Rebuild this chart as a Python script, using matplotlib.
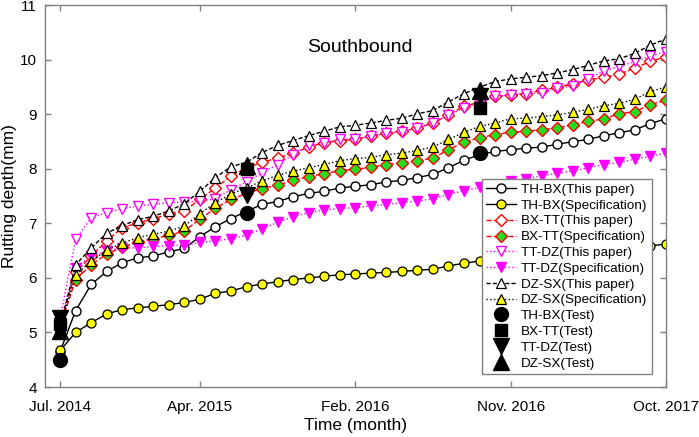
import matplotlib
matplotlib.use("Agg")
import matplotlib.pyplot as plt
import numpy as np

plt.rcParams['font.family'] = ['Liberation Sans', 'DejaVu Sans']

# ---- data (monthly, Jul. 2014 .. Oct. 2017) ----
tick_pos = [0, 9, 19, 29, 39]
tick_labels = ['Jul. 2014', 'Apr. 2015', 'Feb. 2016', 'Nov. 2016', 'Oct. 2017']

thbx_paper = [4.65, 5.40, 5.88, 6.12, 6.28, 6.37, 6.40, 6.48, 6.54, 6.76, 6.94, 7.09, 7.22, 7.35, 7.40,
              7.49, 7.55, 7.59, 7.65, 7.68, 7.71, 7.76, 7.79, 7.84, 7.90, 8.02, 8.16, 8.26, 8.32, 8.35,
              8.38, 8.40, 8.45, 8.50, 8.54, 8.61, 8.66, 8.72, 8.83, 8.92]
thbx_spec = [4.67, 5.00, 5.18, 5.34, 5.42, 5.45, 5.48, 5.51, 5.55, 5.61, 5.72, 5.76, 5.84, 5.89, 5.93,
             5.97, 6.00, 6.03, 6.06, 6.07, 6.09, 6.10, 6.12, 6.14, 6.16, 6.22, 6.27, 6.31, 6.34, 6.36,
             6.38, 6.40, 6.42, 6.44, 6.46, 6.49, 6.52, 6.55, 6.59, 6.62]
bxtt_paper = [5.15, 6.10, 6.40, 6.68, 6.92, 7.01, 7.08, 7.18, 7.23, 7.44, 7.65, 7.87, 8.02, 8.12, 8.20,
              8.29, 8.40, 8.48, 8.52, 8.54, 8.60, 8.66, 8.69, 8.75, 8.84, 8.99, 9.15, 9.22, 9.33, 9.35,
              9.38, 9.44, 9.50, 9.56, 9.63, 9.68, 9.74, 9.85, 9.97, 10.06]
bxtt_spec = [5.10, 5.97, 6.24, 6.44, 6.56, 6.66, 6.72, 6.78, 6.86, 7.08, 7.28, 7.44, 7.55, 7.64, 7.70,
             7.79, 7.86, 7.91, 7.97, 7.99, 8.03, 8.08, 8.11, 8.15, 8.20, 8.35, 8.49, 8.57, 8.63, 8.67,
             8.69, 8.72, 8.75, 8.81, 8.87, 8.92, 9.01, 9.05, 9.18, 9.26]
ttdz_paper = [5.25, 6.71, 7.10, 7.20, 7.27, 7.32, 7.35, 7.38, 7.39, 7.41, 7.45, 7.62, 7.76, 7.93, 8.08,
              8.26, 8.43, 8.48, 8.54, 8.55, 8.60, 8.65, 8.68, 8.75, 8.84, 8.98, 9.12, 9.21, 9.33, 9.36,
              9.38, 9.39, 9.48, 9.52, 9.65, 9.80, 9.88, 9.97, 10.07, 10.15]
ttdz_spec = [5.20, 6.18, 6.40, 6.50, 6.55, 6.55, 6.58, 6.59, 6.60, 6.65, 6.68, 6.72, 6.78, 6.90, 7.02,
             7.12, 7.20, 7.25, 7.27, 7.29, 7.32, 7.35, 7.38, 7.41, 7.45, 7.53, 7.60, 7.66, 7.71, 7.78,
             7.82, 7.87, 7.92, 7.96, 8.02, 8.08, 8.12, 8.18, 8.23, 8.29]
dzsx_paper = [5.10, 6.24, 6.55, 6.82, 6.96, 7.07, 7.13, 7.23, 7.36, 7.59, 7.84, 8.04, 8.12, 8.30, 8.43,
              8.52, 8.61, 8.69, 8.77, 8.80, 8.84, 8.89, 8.93, 9.01, 9.07, 9.23, 9.38, 9.50, 9.60, 9.65,
              9.68, 9.71, 9.76, 9.82, 9.90, 9.98, 10.02, 10.12, 10.27, 10.38]
dzsx_spec = [5.10, 6.05, 6.31, 6.51, 6.64, 6.74, 6.80, 6.86, 6.95, 7.18, 7.38, 7.54, 7.65, 7.78, 7.88,
             7.96, 8.02, 8.08, 8.15, 8.19, 8.21, 8.26, 8.29, 8.34, 8.40, 8.54, 8.67, 8.78, 8.84, 8.92,
             8.93, 8.96, 8.99, 9.04, 9.09, 9.16, 9.20, 9.28, 9.42, 9.50]

test_x = [0, 12, 27]
thbx_test = [4.50, 7.20, 8.30]
bxtt_test = [5.15, 8.00, 9.12]
ttdz_test = [5.27, 7.52, 9.33]
dzsx_test = [5.02, 8.05, 9.43]

months = np.arange(len(thbx_paper))

fig = plt.figure(figsize=(6.99, 4.37), dpi=100)
ax = fig.add_axes([0.0644, 0.1144, 0.8884, 0.8735])

ms = 6.5
lw = 1.0
green = '#22DD22'
ax.plot(months, thbx_paper, '-', color='black', lw=lw, marker='o', ms=ms, mfc='white', mec='black',
        mew=1.0, label='TH-BX(This paper)')
ax.plot(months, thbx_spec, '-', color='black', lw=lw, marker='o', ms=ms, mfc='#FFFF00', mec='black',
        mew=0.9, label='TH-BX(Specification)')
ax.plot(months, bxtt_paper, '--', color='#FF0000', lw=lw, marker='D', ms=ms - 0.8, mfc='white', mec='#FF0000',
        mew=1.0, label='BX-TT(This paper)')
ax.plot(months, bxtt_spec, '--', color='#FF0000', lw=lw, marker='D', ms=ms - 0.8, mfc=green, mec='#FF0000',
        mew=1.0, label='BX-TT(Specification)')
ax.plot(months, ttdz_paper, ':', color='#FF00FF', lw=lw, marker='v', ms=ms + 0.5, mfc='white', mec='#FF00FF',
        mew=1.0, label='TT-DZ(This paper)')
ax.plot(months, ttdz_spec, ':', color='#FF00FF', lw=lw, marker='v', ms=ms + 0.5, mfc='#FF00FF', mec='#FF00FF',
        mew=1.0, label='TT-DZ(Specification)')
ax.plot(months, dzsx_paper, '--', color='black', lw=lw, marker='^', ms=ms + 0.5, mfc='white', mec='black',
        mew=0.9, label='DZ-SX(This paper)', dashes=(3, 1.5))
ax.plot(months, dzsx_spec, ':', color='black', lw=lw, marker='^', ms=ms + 0.5, mfc='#FFFF00', mec='black',
        mew=0.9, label='DZ-SX(Specification)')

tms = 10
ax.plot(test_x, thbx_test, linestyle='none', marker='o', ms=tms, color='black', label='TH-BX(Test)')
ax.plot(test_x, bxtt_test, linestyle='none', marker='s', ms=tms - 1.5, color='black', label='BX-TT(Test)')
ax.plot(test_x, ttdz_test, linestyle='none', marker='v', ms=tms + 1, color='black', label='TT-DZ(Test)')
ax.plot(test_x, dzsx_test, linestyle='none', marker='^', ms=tms + 1, color='black', label='DZ-SX(Test)')

ax.set_xlim(-0.97, 39)
ax.set_ylim(4, 11)
ax.set_xticks(tick_pos)
ax.set_xticklabels(tick_labels)
ax.set_yticks(range(4, 12))

for s in ax.spines.values():
    s.set_color('#808080')
    s.set_linewidth(1.0)
ax.tick_params(direction='in', length=4, width=1, color='#808080', labelsize=11,
               top=True, right=True)
ax.tick_params(axis='x', pad=9)
ax.tick_params(axis='y', pad=6)

ax.set_xlabel('Time (month)', fontsize=12.5, labelpad=3)
ax.set_ylabel('Rutting depth(mm)', fontsize=12.5, labelpad=2)

ax.text(19.3, 10.22, 'Southbound', fontsize=14, ha='center', va='center')

leg = ax.legend(loc='lower right', bbox_to_anchor=(0.977, 0.035), fontsize=9.7, frameon=True, fancybox=False,
                edgecolor='#808080', framealpha=1, handlelength=2.2, handletextpad=0.4,
                labelspacing=0.25, borderpad=0.3, borderaxespad=0)
leg.get_frame().set_linewidth(1.0)

fig.savefig('out.png', dpi=100)
